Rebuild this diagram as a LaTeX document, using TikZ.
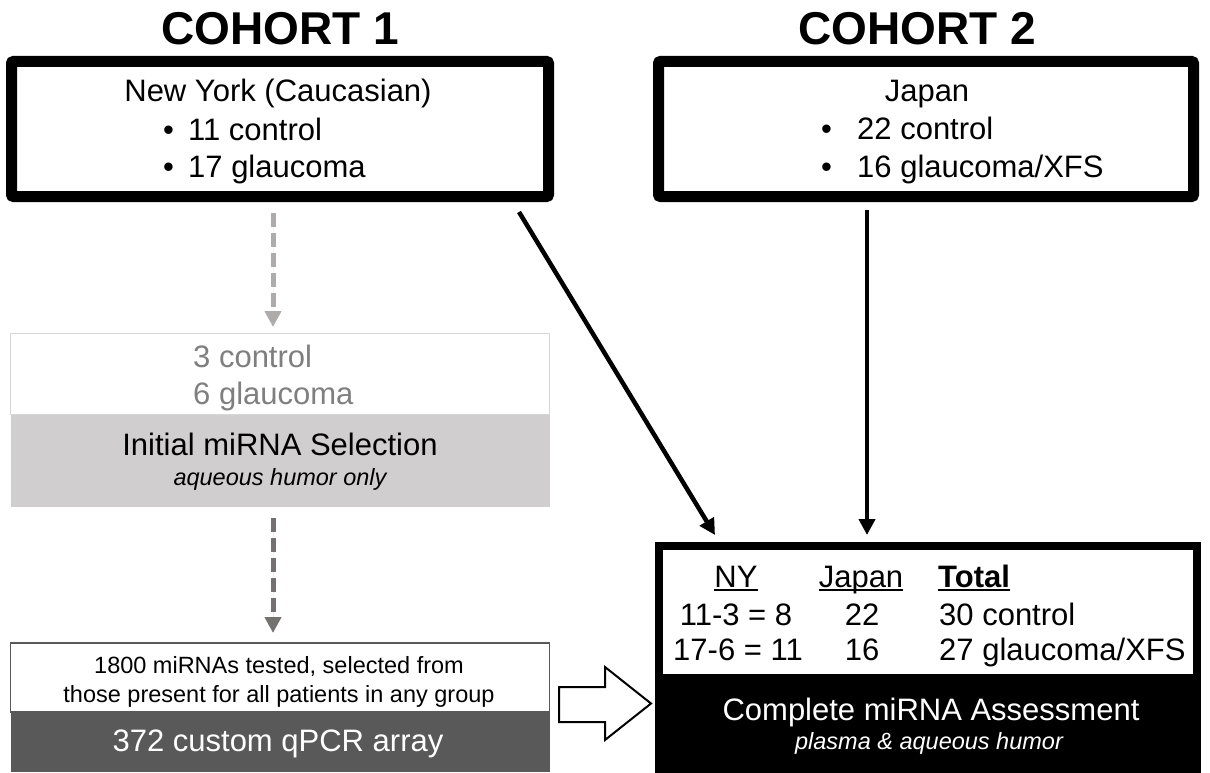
\documentclass[tikz,border=0pt]{standalone}
\usepackage{fontspec}
\setmainfont{Liberation Sans}
\usetikzlibrary{arrows.meta}
\definecolor{cborderA}{HTML}{D6D6D6}
\definecolor{cfillA}{HTML}{D0CECE}
\definecolor{ctextA}{HTML}{7F7F7F}
\definecolor{cdashA}{HTML}{AEABAB}
\definecolor{cdashB}{HTML}{767171}
\definecolor{cfillB}{HTML}{595959}
\newcommand{\myfs}[1]{\fontsize{#1}{#1}\selectfont}
\begin{document}
\begin{tikzpicture}[x=1pt,y=-1pt,
  title/.style={inner sep=0pt, font=\myfs{46}\bfseries},
  txt/.style={inner sep=0pt, font=\myfs{31}},
  smalltxt/.style={inner sep=0pt, font=\myfs{23.5}},
  smallit/.style={inner sep=0pt, font=\myfs{23.5}\itshape},
  bigbox/.style={draw=black, line width=11pt, rounded corners=2pt, inner sep=0pt},
  solidarrow/.style={draw=black, line width=4.5pt, -{Triangle[length=16pt,width=16pt]}},
  dasharrow/.style={line width=5pt, dash pattern=on 14pt off 6pt, -{Triangle[length=16pt,width=16pt]}},
  uline/.style={line width=2pt},
  panel/.style={inner sep=0pt, minimum width=539pt}
]
\useasboundingbox[fill=white] (0,0) rectangle (1210,773);

% titles
\node[title, anchor=base] (t1) at (280,45) {COHORT 1};
\node[title, anchor=base] (t2) at (917,45) {COHORT 2};

% cohort boxes
\node[bigbox, minimum width=537pt, minimum height=135pt] (b1) at (280,129) {};
\node[bigbox, minimum width=535pt, minimum height=135pt] (b2) at (926,129) {};

\node[txt, anchor=base] (ny) at (278,102) {New York (Caucasian)};
\node[txt, anchor=base west] (nb1) at (163,141) {•};
\node[txt, anchor=base west] (nyc) at (188,141) {11 control};
\node[txt, anchor=base west] (nb2) at (163,178) {•};
\node[txt, anchor=base west] (nyg) at (188,178) {17 glaucoma};

\node[txt, anchor=base] (jp) at (927,102) {Japan};
\node[txt, anchor=base west] (jb1) at (821,140) {•};
\node[txt, anchor=base west] (jc) at (857,140) {22 control};
\node[txt, anchor=base west] (jb2) at (821,178) {•};
\node[txt, anchor=base west] (jg) at (857,178) {16 glaucoma/XFS};

% initial selection box
\node[panel, draw=cborderA, line width=1.5pt, fill=white, minimum height=81pt] (b3t) at (280,374) {};
\node[panel, fill=cfillA, minimum height=92pt] (b3b) at (280,461) {};
\node[txt, text=ctextA, anchor=base west] (c3a) at (193,367) {3 control};
\node[txt, text=ctextA, anchor=base west] (c3b) at (193,404) {6 glaucoma};
\node[txt, anchor=base] (sel) at (280,455) {Initial miRNA Selection};
\node[smallit, anchor=base] (aq) at (280,485) {aqueous humor only};

% qPCR box
\node[panel, draw=cfillB, line width=1.5pt, fill=white, minimum height=69pt] (b4t) at (280,677.5) {};
\node[panel, fill=cfillB, minimum height=60pt] (b4b) at (280,742) {};
\node[smalltxt, anchor=base] (m1) at (279,673) {1800 miRNAs tested, selected from};
\node[smalltxt, anchor=base] (m2) at (279,702) {those present for all patients in any group};
\node[txt, text=white, anchor=base] (arr) at (278,751) {372 custom qPCR array};

% complete assessment box
\node[fill=black, inner sep=0pt, minimum width=546pt, minimum height=231pt] (b5) at (928,657.5) {};
\node[fill=white, inner sep=0pt, minimum width=530pt, minimum height=124pt] (b5w) at (928,612) {};
\node[txt, anchor=base] (hny) at (736,587) {NY};
\node[txt, anchor=base] (hjp) at (861,587) {Japan};
\node[txt, anchor=base west, font=\myfs{31}\bfseries] (htot) at (938,587) {Total};
\draw[uline] ([yshift=-3pt]hny.base west) -- ([yshift=-3pt]hny.base east);
\draw[uline] ([yshift=-3pt]hjp.base west) -- ([yshift=-3pt]hjp.base east);
\draw[uline] ([yshift=-3pt]htot.base west) -- ([yshift=-3pt]htot.base east);
\node[txt, anchor=base] (r1a) at (736,625) {11-3 = 8};
\node[txt, anchor=base] (r1b) at (862,625) {22};
\node[txt, anchor=base west] (r1c) at (939,625) {30 control};
\node[txt, anchor=base] (r2a) at (738,660) {17-6 = 11};
\node[txt, anchor=base] (r2b) at (862,660) {16};
\node[txt, anchor=base west] (r2c) at (939,660) {27 glaucoma/XFS};
\node[txt, text=white, anchor=base] (cma) at (931,720) {Complete miRNA Assessment};
\node[smallit, text=white, anchor=base] (pah) at (929,749) {plasma \& aqueous humor};

% connectors
\coordinate (a1s) at (519,212);
\coordinate (a1e) at (715,535);
\coordinate (a2s) at (867,210);
\coordinate (a2e) at (867,535);
\coordinate (d1s) at (273,213);
\coordinate (d1e) at (273,327);
\coordinate (d2s) at (273,518);
\coordinate (d2e) at (273,633);
\draw[solidarrow] (a1s) -- (a1e);
\draw[solidarrow] (a2s) -- (a2e);
\draw[dasharrow, draw=cdashA, fill=cdashA] (d1s) -- (d1e);
\draw[dasharrow, draw=cdashB, fill=cdashB] (d2s) -- (d2e);

% hollow block arrow
\draw[line width=2pt, fill=white, line join=miter]
  (559,687) -- (605,687) -- (605,667) -- (651,703.5) -- (605,740) -- (605,722) -- (559,722) -- cycle;
\end{tikzpicture}
\end{document}
